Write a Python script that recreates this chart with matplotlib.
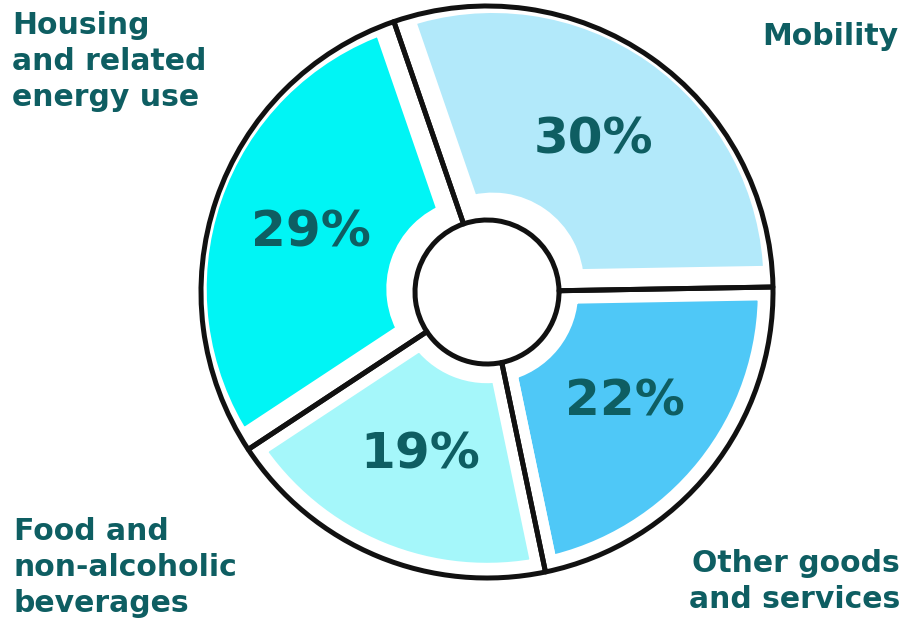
import matplotlib.pyplot as plt

# data
categories = ['Mobility', 'Other goods\nand services', 'Food and\nnon-alcoholic\nbeverages',
              'Housing\nand related\nenergy use']
shares = [30, 22, 19, 29]
colors = ['#b2e9fa', '#4fc8f7', '#a5f7fa', '#00f5f5']
spill = [10, 0, 0, 10]  # blobs that stick out of the outline (data units)

txt_col = '#0e5e62'
plt.rcParams['font.family'] = ['DejaVu Sans']

fig = plt.figure(figsize=(9.07, 6.2), dpi=100)
ax = fig.add_axes([0, 0, 1, 1])

cx, cy = 487, 328
R = 286
hole = 72

# coloured blobs (white edges make the gaps)
wedges, texts, autotexts = ax.pie(
    shares, colors=colors, startangle=109, counterclock=False,
    center=(cx, cy), radius=R - 2, explode=spill,
    wedgeprops=dict(width=R - 2 - hole - 6, edgecolor='white', linewidth=19),
    autopct=lambda p: f'{p:.0f}%', pctdistance=0.62,
    textprops=dict(color=txt_col, fontsize=36, fontweight='bold'))

# black hand-drawn outline
ax.pie(shares, colors=['none'] * 4, startangle=109, counterclock=False,
       center=(cx, cy), radius=R,
       wedgeprops=dict(width=R - hole, edgecolor='#111111', linewidth=3.6, joinstyle='round'))

ax.set_xlim(0, 907)
ax.set_ylim(0, 620)
ax.set_aspect('auto')
ax.axis('off')

lab = dict(color=txt_col, fontsize=21.5, fontweight='bold', linespacing=1.3)
ax.text(12, 609, categories[3], ha='left', va='top', **lab)
ax.text(898, 598, categories[0], ha='right', va='top', **lab)
ax.text(900, 6, categories[1], ha='right', va='bottom', **lab)
ax.text(14, 2, categories[2], ha='left', va='bottom', **lab)

plt.savefig('out.png', dpi=100)
